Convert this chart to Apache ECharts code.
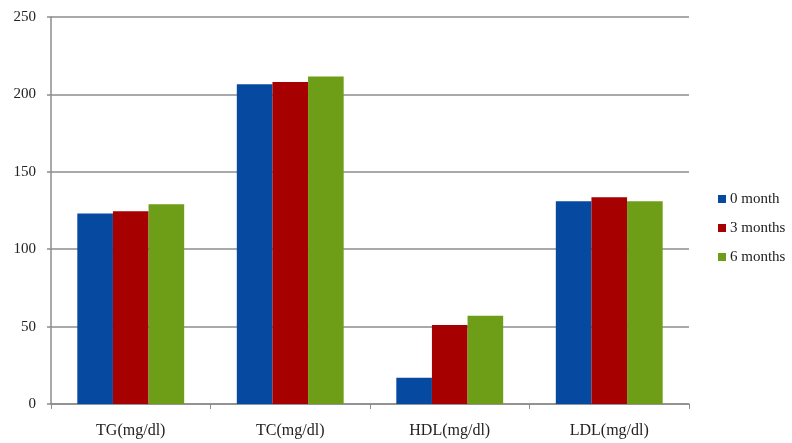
<!DOCTYPE html>
<html><head><meta charset="utf-8">
<script src="https://cdn.jsdelivr.net/npm/echarts@6/dist/echarts.min.js"></script>
<style>html,body{margin:0;padding:0;background:#fff}#c{width:792px;height:443px}</style>
</head><body><div id="c"></div>
<script>
const categories = ['TG(mg/dl)', 'TC(mg/dl)', 'HDL(mg/dl)', 'LDL(mg/dl)'];
const seriesNames = ['0 month', '3 months', '6 months'];
const month0 = [123, 206.5, 17, 131];
const month3 = [124.5, 208, 51, 133.5];
const month6 = [129, 211.5, 57, 131];
const colors = ['#0649A1', '#A60000', '#6E9E17'];
const font = '"Liberation Serif", "DejaVu Serif", serif';
const values = [month0, month3, month6];
const chart = echarts.init(document.getElementById('c'));
chart.setOption({
  animation: false,
  textStyle: {fontFamily: font},
  grid: {left: 51, right: 103, top: 17, bottom: 39, containLabel: false},
  legend: {
    orient: 'vertical', left: 713, top: 185, itemGap: 11,
    itemWidth: 8, itemHeight: 8, icon: 'rect',
    textStyle: {fontFamily: font, fontSize: 15, color: '#222', padding: [0, 0, 0, -1], lineHeight: 18},
    data: seriesNames
  },
  xAxis: {
    type: 'category', data: categories,
    axisLine: {lineStyle: {color: '#8c8c8c', width: 1.5}},
    axisTick: {show: true, length: 5, lineStyle: {color: '#8c8c8c'}},
    axisLabel: {fontFamily: font, fontSize: 16, color: '#222', margin: 19}
  },
  yAxis: {
    type: 'value', min: 0, max: 250, interval: 50,
    axisLine: {show: true, lineStyle: {color: '#8c8c8c', width: 1.5}},
    axisTick: {show: true, length: 4, lineStyle: {color: '#8c8c8c', width: 1.5}},
    axisLabel: {fontFamily: font, fontSize: 15, color: '#222', margin: 15},
    splitLine: {lineStyle: {color: '#8c8c8c', width: 1.5}}
  },
  series: seriesNames.map((n, i) => ({
    name: n, type: 'bar', data: values[i],
    barGap: '0%', barCategoryGap: '33%',
    itemStyle: {color: colors[i]}
  }))
});
</script></body></html>
